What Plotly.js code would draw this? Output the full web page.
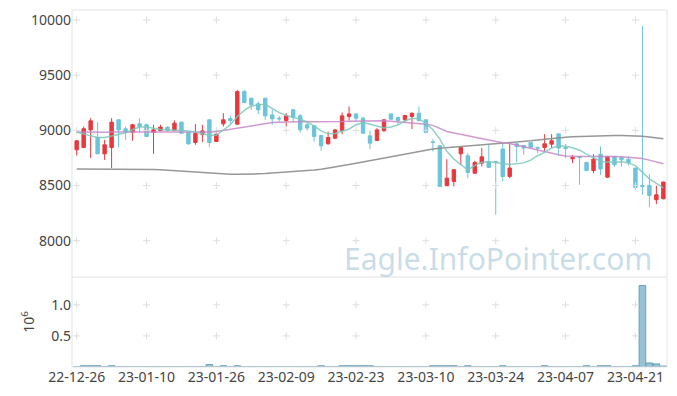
<!DOCTYPE html>
<html>
<head>
<meta charset="utf-8">
<script src="https://cdn.plot.ly/plotly-3.0.1.min.js"></script>
<style>html,body{margin:0;padding:0;background:#fff;}#chart{width:677px;height:396px;}</style>
</head>
<body>
<div id="chart"></div>
<script>
const dates = ['2022-12-26','2022-12-27','2022-12-28','2022-12-29','2023-01-02','2023-01-03','2023-01-04','2023-01-05','2023-01-06','2023-01-09',
'2023-01-10','2023-01-11','2023-01-12','2023-01-13','2023-01-16','2023-01-17','2023-01-18','2023-01-19','2023-01-20','2023-01-25',
'2023-01-26','2023-01-27','2023-01-30','2023-01-31','2023-02-01','2023-02-02','2023-02-03','2023-02-06','2023-02-07','2023-02-08',
'2023-02-09','2023-02-10','2023-02-13','2023-02-14','2023-02-15','2023-02-16','2023-02-17','2023-02-20','2023-02-21','2023-02-22',
'2023-02-23','2023-02-24','2023-02-27','2023-02-28','2023-03-02','2023-03-03','2023-03-06','2023-03-07','2023-03-08','2023-03-09',
'2023-03-10','2023-03-13','2023-03-14','2023-03-15','2023-03-16','2023-03-17','2023-03-20','2023-03-21','2023-03-22','2023-03-23',
'2023-03-24','2023-03-27','2023-03-28','2023-03-29','2023-03-30','2023-03-31','2023-04-03','2023-04-04','2023-04-05','2023-04-06',
'2023-04-07','2023-04-10','2023-04-11','2023-04-12','2023-04-13','2023-04-14','2023-04-17','2023-04-18','2023-04-19','2023-04-20',
'2023-04-21','2023-04-24','2023-04-25','2023-04-26','2023-04-27'];

const openP = [8823,8845,9004,8935,8787,8845,9095,9014,8983,9059,
9050,8983,8998,9029,8998,9074,8980,8890,8965,9095,
8899,9059,9107,9056,9351,9291,9240,9291,9140,9110,
9089,9186,9131,9050,9041,8953,8878,8929,8998,9125,
9149,9110,8950,8908,8998,9149,9116,9095,9125,9155,
9095,8896,8860,8498,8537,8787,8769,8612,8703,8718,
8718,8830,8582,8878,8863,8890,8845,8845,8875,8968,
8845,8742,8763,8709,8636,8784,8576,8763,8754,8739,
8658,8501,8501,8371,8380];
const highP = [8910,9035,9110,9074,8914,9110,9100,9035,9059,9110,
9060,9050,9050,9035,9089,9080,8990,9056,9050,9095,
8989,9155,9134,9367,9367,9295,9261,9295,9192,9131,
9155,9190,9146,9080,9045,8955,8989,9010,9161,9216,
9150,9125,8998,9020,9100,9150,9125,9140,9160,9216,
9100,8920,8865,8739,8650,8850,8793,8724,8839,8869,
8720,8890,8890,8880,8866,8893,8854,8965,8965,8970,
8878,8778,8765,8715,8784,8854,8769,8766,8757,8763,
8660,9946,8603,8498,8535];
const lowP = [8772,8840,8748,8785,8733,8658,8845,8914,8905,8983,
8940,8787,8995,8990,8995,8970,8869,8869,8893,8848,
8895,9035,9056,9050,9245,9186,9146,9095,9050,9080,
9035,9071,8980,8998,8899,8814,8870,8920,8965,9089,
9080,8970,8830,8905,8983,9095,9050,9074,9011,9080,
8975,8808,8490,8495,8492,8688,8567,8605,8673,8660,
8235,8537,8567,8709,8778,8840,8793,8808,8839,8769,
8748,8703,8507,8630,8612,8597,8570,8667,8673,8682,
8461,8416,8305,8332,8375];
const closeP = [8905,9014,9086,8787,8869,9074,9004,8983,9050,9035,
8944,9004,9029,8998,9065,8974,8878,8971,8995,8890,
8965,9095,9089,9351,9252,9231,9186,9131,9104,9104,
9131,9119,9005,9020,8944,8860,8935,9004,9131,9149,
9110,8974,8884,9004,9095,9101,9089,9134,9155,9089,
8980,8890,8492,8567,8643,8845,8618,8709,8760,8664,
8709,8582,8658,8854,8839,8845,8839,8878,8905,8839,
8836,8754,8754,8636,8739,8649,8763,8688,8733,8709,
8483,8492,8410,8416,8531];

const ma5 = [8984,8965,8950,8935,8935,8948,8965,8978,9005,9030,
9030,9018,9008,9005,9002,8998,8995,8985,8970,8955,
8955,9005,9050,9125,9180,9220,9232,9236,9200,9160,
9134,9120,9100,9075,9040,8995,8968,8972,8990,9012,
9050,9071,9055,9035,9022,9030,9048,9085,9110,9105,
9060,9005,8920,8810,8740,8690,8643,8680,8712,8715,
8710,8700,8690,8695,8705,8730,8770,8800,8840,8860,
8855,8842,8820,8785,8755,8720,8712,8710,8715,8705,
8680,8620,8560,8520,8478];
const ma20 = [8985,8983,8982,8982,8983,8985,8985,8983,8982,8982,
8983,8984,8985,8985,8984,8983,8982,8982,8983,8985,
8990,9000,9012,9025,9035,9045,9055,9065,9070,9074,
9077,9079,9080,9080,9078,9077,9077,9078,9080,9082,
9084,9086,9088,9088,9086,9083,9078,9072,9066,9060,
9055,9045,9020,8990,8975,8965,8950,8938,8925,8910,
8895,8887,8880,8865,8850,8835,8820,8805,8790,8778,
8768,8763,8762,8762,8763,8764,8764,8763,8760,8755,
8750,8745,8730,8715,8698];
const ma60 = [8650,8650,8650,8650,8650,8649,8649,8648,8648,8648,
8647,8645,8642,8638,8634,8630,8625,8620,8615,8610,
8607,8604,8602,8601,8601,8603,8606,8609,8613,8618,
8624,8628,8632,8636,8641,8648,8657,8667,8678,8690,
8702,8714,8726,8738,8750,8762,8774,8786,8798,8810,
8820,8830,8838,8843,8847,8851,8855,8859,8864,8869,
8874,8880,8886,8892,8898,8905,8912,8920,8927,8933,
8938,8941,8944,8946,8948,8950,8952,8953,8953,8952,
8950,8946,8940,8932,8924];

// volume in units of 10^6 shares
const volume = [0.003,0.02,0.02,0.02,0.003,0.02,0.003,0.003,0.003,0.003,
0.003,0.003,0.003,0.003,0.003,0.003,0.003,0.003,0.003,0.04,
0.003,0.02,0.003,0.02,0.003,0.003,0.003,0.003,0.003,0.003,
0.003,0.003,0.003,0.003,0.003,0.02,0.003,0.003,0.02,0.02,
0.02,0.02,0.02,0.003,0.003,0.003,0.003,0.003,0.003,0.003,
0.003,0.02,0.02,0.02,0.02,0.003,0.02,0.003,0.003,0.003,
0.003,0.02,0.003,0.003,0.003,0.003,0.003,0.02,0.003,0.003,
0.003,0.003,0.003,0.02,0.003,0.02,0.02,0.003,0.003,0.003,
0.02,1.31,0.065,0.05,0.015];

const tickDates = ['2022-12-26','2023-01-10','2023-01-26','2023-02-09','2023-02-23','2023-03-10','2023-03-24','2023-04-07','2023-04-21'];
const tickLabels = ['22-12-26','23-01-10','23-01-26','23-02-09','23-02-23','23-03-10','23-03-24','23-04-07','23-04-21'];
const priceTicks = [8000,8500,9000,9500,10000];
const priceTickLabels = ['8000','8500','9000','9500','10000'];
const volTicks = [0.5,1.0];
const volTickLabels = ['0.5','1.0'];

const RED = '#e8383d', BLUE = '#6cc4da';

// grid crosses at tick intersections
const gx1=[], gy1=[], gx2=[], gy2=[];
tickDates.forEach(d => { priceTicks.forEach(p => { gx1.push(d); gy1.push(p); }); volTicks.forEach(v => { gx2.push(d); gy2.push(v); }); });
const crossMarker = {symbol:'cross-thin', size:5, color:'#dedede', line:{color:'#dedede', width:1}};

const traces = [
  {type:'candlestick', x:dates, open:openP, high:highP, low:lowP, close:closeP, xaxis:'x', yaxis:'y',
   increasing:{line:{color:RED, width:1}, fillcolor:RED},
   decreasing:{line:{color:BLUE, width:1}, fillcolor:BLUE}, hoverinfo:'skip'},
  {type:'scatter', mode:'markers', x:gx1, y:gy1, xaxis:'x', yaxis:'y', marker:crossMarker, hoverinfo:'skip'},
  {type:'scatter', mode:'markers', x:gx2, y:gy2, xaxis:'x', yaxis:'y2', marker:crossMarker, hoverinfo:'skip'},
  {type:'scatter', mode:'lines', x:dates, y:ma60, xaxis:'x', yaxis:'y', line:{color:'rgba(140,140,140,0.9)', width:1.5}, hoverinfo:'skip'},
  {type:'scatter', mode:'lines', x:dates, y:ma20, xaxis:'x', yaxis:'y', line:{color:'rgba(200,135,200,0.85)', width:1.5}, hoverinfo:'skip'},
  {type:'scatter', mode:'lines', x:dates, y:ma5, xaxis:'x', yaxis:'y', line:{color:'rgba(125,200,188,0.85)', width:1.5}, hoverinfo:'skip'},
  {type:'bar', x:dates, y:volume, xaxis:'x', yaxis:'y2', marker:{color:'rgba(140,188,208,0.9)', line:{color:'rgb(105,160,185)', width:1}}, hoverinfo:'skip'}
];

const layout = {
  width:677, height:396,
  margin:{l:72, r:10, t:10, b:29},
  paper_bgcolor:'#ffffff', plot_bgcolor:'#ffffff',
  showlegend:false, bargap:0.05,
  font:{family:'Noto Sans, sans-serif', size:14, color:'#444'},
  xaxis:{type:'category', categoryorder:'array', categoryarray:dates, range:[-0.67,84.52], tickvals:tickDates, ticktext:tickLabels,
         showgrid:false, zeroline:false, rangeslider:{visible:false}, anchor:'y2', ticks:'', showline:false, tickfont:{size:14, color:'#444'}},
  yaxis:{domain:[0.252,1], range:[7671,10090], tickvals:priceTicks, ticktext:priceTickLabels, showgrid:false, zeroline:false, ticks:'', showline:false,
         tickfont:{size:14, color:'#444'}},
  yaxis2:{domain:[0,0.252], range:[0,1.447], tickvals:volTicks, ticktext:volTickLabels, showgrid:false, zeroline:false, ticks:'',
          showline:false, tickfont:{size:14, color:'#444'}, title:{text:'10<sup>6</sup>', font:{size:14, color:'#444'}}},
  shapes:[
    {type:'rect', xref:'paper', yref:'paper', x0:0, x1:1, y0:0, y1:1, line:{color:'#e3e3e3', width:1}},
    {type:'line', xref:'paper', yref:'paper', x0:0, x1:1, y0:0.252, y1:0.252, line:{color:'#e3e3e3', width:1}}
  ],
  annotations:[
    {text:'Eagle.InfoPointer.com', xref:'paper', yref:'paper', x:0.978, y:0.305, xanchor:'right', yanchor:'middle',
     showarrow:false, font:{family:'Noto Sans, sans-serif', size:30, color:'rgba(165,198,216,0.6)'}}
  ]
};

Plotly.newPlot('chart', traces, layout, {staticPlot:true, displayModeBar:false});
</script>
</body>
</html>
